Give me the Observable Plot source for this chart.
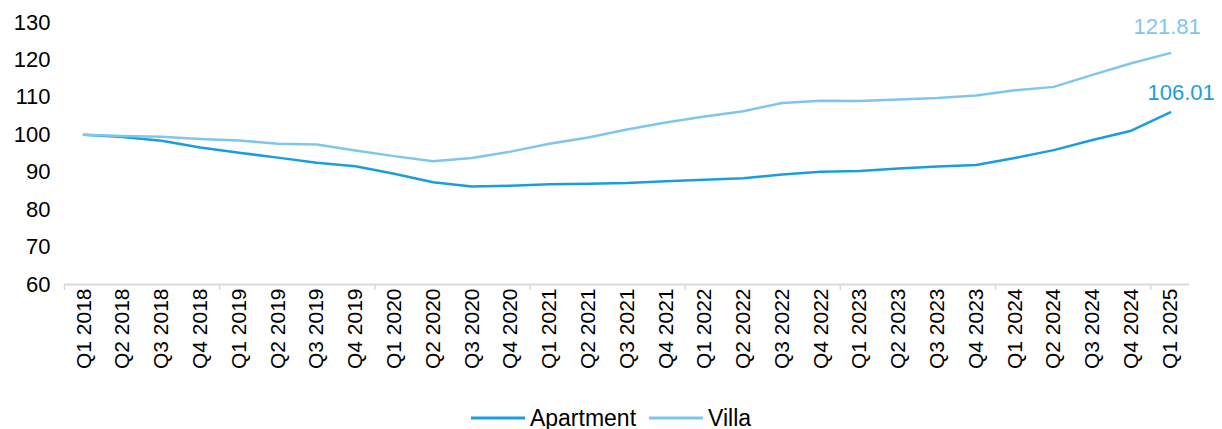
<!DOCTYPE html>
<html>
<head>
<meta charset="utf-8">
<script src="https://cdn.jsdelivr.net/npm/d3@7"></script>
<script src="https://cdn.jsdelivr.net/npm/@observablehq/plot@0.6"></script>
<style>
  html, body { margin: 0; padding: 0; background: #fff; }
  body { width: 1222px; height: 429px; overflow: hidden; font-family: "Liberation Sans", Arial, sans-serif; }
  #legend { display: flex; justify-content: center; align-items: center; height: 26px; margin-top: 15px; font-size: 23px; color: #000; }
  .item { display: flex; align-items: center; }
  .item svg { margin-right: 5px; }
  .item + .item { margin-left: 13px; }
</style>
</head>
<body>
<div id="chart"></div>
<div id="legend"></div>
<script>
const quarters = [
  "Q1 2018","Q2 2018","Q3 2018","Q4 2018",
  "Q1 2019","Q2 2019","Q3 2019","Q4 2019",
  "Q1 2020","Q2 2020","Q3 2020","Q4 2020",
  "Q1 2021","Q2 2021","Q3 2021","Q4 2021",
  "Q1 2022","Q2 2022","Q3 2022","Q4 2022",
  "Q1 2023","Q2 2023","Q3 2023","Q4 2023",
  "Q1 2024","Q2 2024","Q3 2024","Q4 2024",
  "Q1 2025"
];
const apartment = [100, 99.4, 98.4, 96.6, 95.2, 93.9, 92.5, 91.6, 89.6, 87.3, 86.2, 86.4, 86.8, 86.9, 87.1, 87.6, 88.0, 88.4, 89.4, 90.1, 90.3, 91.0, 91.5, 91.9, 93.8, 95.9, 98.6, 101.1, 106.01];
const villa = [100, 99.7, 99.5, 98.9, 98.5, 97.6, 97.4, 95.8, 94.3, 92.9, 93.8, 95.5, 97.6, 99.3, 101.4, 103.3, 104.9, 106.3, 108.5, 109.1, 109.0, 109.4, 109.8, 110.5, 111.9, 112.8, 116.0, 119.1, 121.81];
const seriesNames = ["Apartment", "Villa"];
const seriesColors = ["#1a9edb", "#7fc6ee"];
const yTicks = [60, 70, 80, 90, 100, 110, 120, 130];

const rows = [];
quarters.forEach((q, i) => {
  rows.push({i, quarter: q, series: "Apartment", value: apartment[i]});
  rows.push({i, quarter: q, series: "Villa", value: villa[i]});
});
const idx = d3.range(quarters.length);
const boundaries = d3.range(-0.5, quarters.length, 4);

const chart = Plot.plot({
  width: 1222,
  height: 390,
  marginLeft: 64,
  marginRight: 33,
  marginTop: 22,
  marginBottom: 106,
  style: {fontFamily: '"Liberation Sans", Arial, sans-serif', fontSize: "20px", color: "#000", background: "#fff"},
  x: {type: "linear", domain: [-0.5, quarters.length - 0.5]},
  y: {domain: [60, 130]},
  color: {domain: seriesNames, range: seriesColors},
  marks: [
    Plot.axisY({ticks: yTicks, tickSize: 0, tickPadding: 14, fontSize: 22, label: null}),
    Plot.ruleY([60], {stroke: "#d9d9d9", strokeWidth: 2}),
    Plot.axisX({ticks: boundaries, tickSize: 6, tickFormat: () => "", stroke: "#d9d9d9", strokeWidth: 1.5, label: null}),
    Plot.axisX({ticks: idx, tickSize: 0, tickPadding: 4, tickRotate: -90, tickFormat: i => quarters[i], fontSize: 21, label: null}),
    Plot.line(rows, {x: "i", y: "value", z: "series", stroke: "series", strokeWidth: 2.5, curve: "linear"}),
    Plot.text(rows.filter(d => d.series === "Villa"), Plot.selectLast({x: "i", y: "value", text: d => d.value.toFixed(2), fill: "series", fontSize: 22, dx: -3, dy: -26})),
    Plot.text(rows.filter(d => d.series === "Apartment"), Plot.selectLast({x: "i", y: "value", text: d => d.value.toFixed(2), fill: "series", fontSize: 22, dx: 11, dy: -19}))
  ]
});
document.getElementById("chart").appendChild(chart);

const legend = document.getElementById("legend");
seriesNames.forEach((name, k) => {
  const item = document.createElement("div");
  item.className = "item";
  item.innerHTML = `<svg width="54" height="4"><line x1="0" x2="54" y1="2" y2="2" stroke="${seriesColors[k]}" stroke-width="3"/></svg><span>${name}</span>`;
  legend.appendChild(item);
});
</script>
</body>
</html>
